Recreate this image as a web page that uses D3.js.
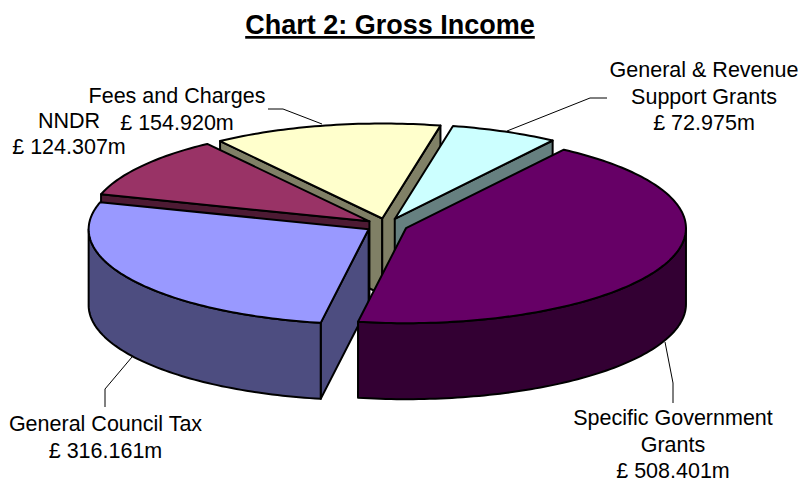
<html lang="en">
<head>
    <meta charset="UTF-8">
    <title>Chart 2: Gross Income</title>
    <script src="https://d3js.org/d3.v7.min.js"></script>
    <style>
        body { margin: 0; background: #fff; }
        text { font-family: "Liberation Sans", Arial, sans-serif; fill: #000; }
    </style>
</head>
<body>
    <div id="chart"></div>
    <script>
        // data, in drawing order round the pie (clockwise)
        var categories = ["General & Revenue Support Grants", "Specific Government Grants", "General Council Tax", "NNDR", "Fees and Charges"];
        var values = [72.975, 508.401, 316.161, 124.307, 154.920];
        var topColors = ["#CCFFFF", "#660066", "#9999FF", "#993366", "#FFFFCC"];
        var wallColors = ["#668080", "#330033", "#4D4D80", "#4D1A33", "#808066"];
        var paintOrder = [4, 0, 3, 2, 1];  // back to front

        // label lines per slice
        var labelLines = [
            ["General & Revenue", "Support Grants", "£ 72.975m"],
            ["Specific Government", "Grants", "£ 508.401m"],
            ["General Council Tax", "£ 316.161m"],
            ["NNDR", "£ 124.307m"],
            ["Fees and Charges", "£ 154.920m"]
        ];
        var labelX = [704, 673, 105.5, 69, 177];
        var labelY = [77, 425.4, 431, 127.5, 103];
        var lineGap = 26.5;
        var leaders = [
            [[607, 98], [590, 98], [507, 131]],
            [[673, 403], [673, 383], [665, 342]],
            [[105, 407], [105, 389], [132, 357]],
            [],
            [[268, 109], [283, 109], [322, 124]]
        ];

        var width = 798, height = 483;
        var cx = 386.5, cy = 225.5, rx = 280, ry = 95, depth = 76, explode = 21;
        var startDeg = 12;

        var svg = d3.select("#chart").append("svg")
            .attr("width", width)
            .attr("height", height)
            .style("display", "block");

        var pie = d3.pie().sort(null)
            .startAngle(startDeg * Math.PI / 180)
            .endAngle((startDeg + 360) * Math.PI / 180);
        var arcs = pie(values);

        // angle measured clockwise from the top, projected on to the tilted plate
        var xScale = d3.scaleLinear().domain([-1, 1]).range([-rx, rx]);
        var yScale = d3.scaleLinear().domain([-1, 1]).range([-ry, ry]);

        function project(a, r, mid, z) {
            return [
                cx + xScale(explode / rx * Math.sin(mid) + r * Math.sin(a)),
                cy + yScale(-explode / rx * Math.cos(mid) - r * Math.cos(a)) + z
            ];
        }

        function rimPoints(a0, a1, mid, z) {
            var n = Math.max(2, Math.ceil((a1 - a0) / 0.02));
            return d3.range(n + 1).map(function(i) {
                return project(a0 + (a1 - a0) * i / n, 1, mid, z);
            });
        }

        var line = d3.line();

        function drawShape(points, fill) {
            svg.append("path")
                .attr("d", line(points) + "Z")
                .attr("fill", fill)
                .attr("stroke", "#000")
                .attr("stroke-width", 2)
                .attr("stroke-linejoin", "round");
        }

        function drawSlice(i) {
            var d = arcs[i];
            var a0 = d.startAngle, a1 = d.endAngle, mid = (a0 + a1) / 2;
            var tip = project(0, 0, mid, 0);
            var tipLow = project(0, 0, mid, depth);

            // radial walls, only the ones that face the viewer
            if (Math.sin(a0) < 0) {
                drawShape([tip, project(a0, 1, mid, 0), project(a0, 1, mid, depth), tipLow], wallColors[i]);
            }
            if (Math.sin(a1) > 0) {
                drawShape([tip, project(a1, 1, mid, 0), project(a1, 1, mid, depth), tipLow], wallColors[i]);
            }

            // outer wall, front half of the rim
            var w0 = Math.max(a0, Math.PI / 2), w1 = Math.min(a1, Math.PI * 1.5);
            if (w1 > w0) {
                drawShape(rimPoints(w0, w1, mid, 0).concat(rimPoints(w0, w1, mid, depth).reverse()), wallColors[i]);
            }

            // top plate
            drawShape([tip].concat(rimPoints(a0, a1, mid, 0)), topColors[i]);
        }

        paintOrder.forEach(drawSlice);

        // leader lines
        leaders.forEach(function(pts) {
            if (!pts.length) return;
            svg.append("path")
                .attr("d", line(pts))
                .attr("fill", "none")
                .attr("stroke", "#000")
                .attr("stroke-width", 1);
        });

        // labels
        labelLines.forEach(function(lines, i) {
            var t = svg.append("text")
                .attr("text-anchor", "middle")
                .attr("font-size", "21.5px");
            lines.forEach(function(s, j) {
                t.append("tspan")
                    .attr("x", labelX[i])
                    .attr("y", labelY[i] + j * lineGap)
                    .text(s);
            });
        });

        // title
        svg.append("text")
            .attr("x", 390)
            .attr("y", 34)
            .attr("text-anchor", "middle")
            .attr("font-size", "27px")
            .attr("font-weight", "bold")
            .attr("text-decoration", "underline")
            .text("Chart 2: Gross Income");
    </script>
</body>
</html>
